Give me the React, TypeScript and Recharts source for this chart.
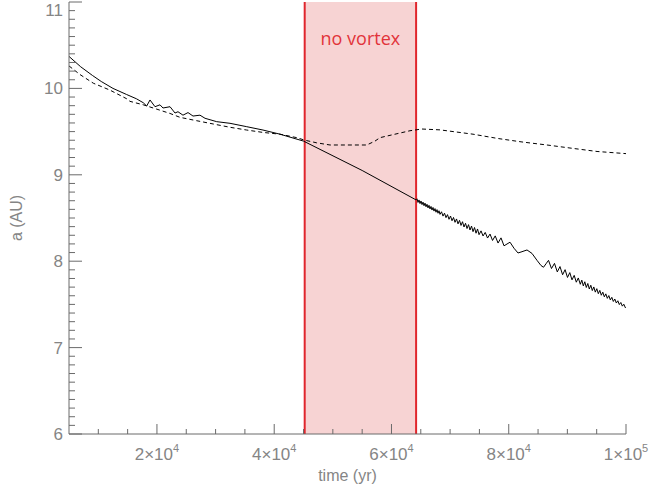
import { LineChart, Line, XAxis, YAxis, ReferenceArea, ReferenceLine, Label } from "recharts"

// semi-major axis a (AU) vs time (yr)
const solidEarly: [number, number][] = [
  [5000, 10.37], [7000, 10.25], [9000, 10.15], [10500, 10.08], [12500, 10.0], [14800, 9.93],
  [16500, 9.88], [17670, 9.834], [18250, 9.796], [18815, 9.866], [19670, 9.788], [20520, 9.81],
  [21030, 9.773], [22230, 9.788], [23080, 9.715], [23590, 9.73], [24440, 9.69], [25300, 9.72],
  [26150, 9.68], [27340, 9.69], [28200, 9.654], [30190, 9.615], [32460, 9.596], [35310, 9.557],
  [38090, 9.518], [40990, 9.47], [45000, 9.39],
]

const solidGap: [number, number][] = [
  [55000, 9.05], [64180, 8.71],
]

const solidLate: [number, number][] = [
  [64354, 8.722], [64525, 8.68], [64696, 8.709], [64866, 8.667], [65037, 8.697], [65207, 8.655],
  [65378, 8.684], [65548, 8.642], [65719, 8.672], [65890, 8.63], [66060, 8.659], [66231, 8.617],
  [66401, 8.647], [66572, 8.605], [66742, 8.634], [66913, 8.592], [67084, 8.622], [67254, 8.58],
  [67425, 8.609], [67595, 8.567], [67766, 8.597], [67936, 8.555], [68107, 8.584], [68278, 8.542],
  [68534, 8.572], [68790, 8.522], [69046, 8.556], [69302, 8.504], [69558, 8.539], [69814, 8.485],
  [70070, 8.523], [70326, 8.468], [70582, 8.506], [70838, 8.45], [71094, 8.489], [71350, 8.432],
  [71606, 8.473], [71862, 8.414], [72118, 8.457], [72374, 8.396], [72630, 8.439], [72886, 8.378],
  [73142, 8.423], [73398, 8.361], [73654, 8.407], [73910, 8.342], [74166, 8.39], [74422, 8.324],
  [74678, 8.373], [74934, 8.307],
  [75275, 8.351], [75616, 8.292], [75991, 8.333], [76384, 8.268], [76810, 8.314], [77237, 8.24],
  [77697, 8.293], [78175, 8.21], [78682, 8.27], [79194, 8.178], [80217, 8.22],
  [80898, 8.15], [81580, 8.095], [82262, 8.11], [83115, 8.13], [83968, 8.09], [84821, 8.01],
  [85503, 7.95], [85929, 7.93], [86356, 7.97], [86782, 8.01],
  [87293, 7.915], [87805, 7.975], [88282, 7.876], [88742, 7.938], [89186, 7.843], [89612, 7.902],
  [90022, 7.812], [90414, 7.868], [90789, 7.784], [91164, 7.836], [91523, 7.757], [91864, 7.806],
  [92205, 7.733],
  [92461, 7.781], [92717, 7.714], [92973, 7.762], [93229, 7.696], [93485, 7.742], [93741, 7.678],
  [93997, 7.722], [94253, 7.66], [94509, 7.702], [94765, 7.642], [95021, 7.682], [95277, 7.624],
  [95533, 7.662], [95789, 7.606], [96045, 7.642], [96301, 7.588], [96557, 7.622], [96813, 7.57],
  [97069, 7.602], [97325, 7.552], [97581, 7.582], [97837, 7.534], [98093, 7.562], [98349, 7.516],
  [98605, 7.542], [98861, 7.498], [99117, 7.522], [99373, 7.48], [99629, 7.502], [99885, 7.462],
  [100000, 7.47],
]

const dashed: [number, number][] = [
  [5000, 10.26], [6880, 10.16], [9150, 10.06], [11990, 9.98], [14840, 9.88], [15400, 9.85],
  [17670, 9.81], [19960, 9.76], [22230, 9.71], [23930, 9.665], [26780, 9.626], [29610, 9.588],
  [32460, 9.55], [35310, 9.518], [38140, 9.49], [40990, 9.47], [43840, 9.43], [45250, 9.4],
  [47250, 9.37], [49520, 9.345], [55780, 9.345], [57190, 9.39], [58040, 9.43], [60600, 9.47],
  [63160, 9.51], [65160, 9.53], [68280, 9.52], [73910, 9.47], [78170, 9.42], [82260, 9.38],
  [86530, 9.345], [90450, 9.31], [95060, 9.27], [100000, 9.245],
]

const vortexStart = 45200
const vortexEnd = 64200

const xTicks = [
  10000, 15000, 20000, 25000, 30000, 35000, 40000, 45000, 50000, 55000,
  60000, 65000, 70000, 75000, 80000, 85000, 90000, 95000, 100000,
]
const xMajor = [20000, 40000, 60000, 80000, 100000]
const yTicks = Array.from({ length: 51 }, (_, i) => +(6 + i * 0.1).toFixed(1))

const toPoints = (arr: [number, number][]) => arr.map(([t, a]) => ({ t, a }))
const solidData = toPoints([...solidEarly, ...solidGap, ...solidLate])
const dashedData = toPoints(dashed)

const AXIS = "#6a6a6a"
const TXT = "#858585"
const FONT = "'Liberation Sans', Arial, sans-serif"

const isMajorY = (v: number) => Math.abs(v - Math.round(v)) < 1e-6

function BottomTick({ x, y, payload }: any) {
  const v = payload.value
  const major = xMajor.includes(v)
  const exp = Math.floor(Math.log10(v))
  const m = Math.round(v / Math.pow(10, exp))
  return (
    <g>
      <line x1={x} x2={x} y1={y} y2={y - (major ? 10 : 5)} stroke={AXIS} />
      {major && (
        <text x={x} y={y + 26} textAnchor="middle" fill={TXT} fontSize={17} fontFamily={FONT}>
          {m}×10<tspan dy={-8} fontSize={11}>{exp}</tspan>
        </text>
      )}
    </g>
  )
}

function TopTick({ x, y, payload }: any) {
  const major = xMajor.includes(payload.value)
  return <line x1={x} x2={x} y1={y} y2={y + (major ? 10 : 5)} stroke={AXIS} />
}

function LeftTick({ x, y, payload }: any) {
  const major = isMajorY(payload.value)
  return (
    <g>
      <line x1={x} x2={x + (major ? 13 : 6)} y1={y} y2={y} stroke={AXIS} />
      {major && (
        <text x={x - 6} y={Math.max(y, 10) + 6} textAnchor="end" fill={TXT} fontSize={17} fontFamily={FONT}>
          {Math.round(payload.value)}
        </text>
      )}
    </g>
  )
}

function RightTick({ x, y, payload }: any) {
  const major = isMajorY(payload.value)
  return <line x1={x} x2={x - (major ? 13 : 6)} y1={y} y2={y} stroke={AXIS} />
}

export default function App() {
  return (
    <div style={{ position: "absolute", left: 0, top: 0 }}>
      <LineChart width={672} height={492} margin={{ top: 2, right: 46, bottom: 0, left: 0 }}>
        <XAxis
          dataKey="t"
          type="number"
          domain={[5000, 100000]}
          allowDataOverflow
          ticks={xTicks}
          interval={0}
          tickSize={0}
          tickMargin={0}
          height={58}
          axisLine={{ stroke: AXIS }}
          tick={<BottomTick />}
        >
          <Label
            content={() => (
              <text x={347.5} y={481} textAnchor="middle" fill={TXT} fontSize={16} fontFamily={FONT}>
                time (yr)
              </text>
            )}
          />
        </XAxis>
        <XAxis
          xAxisId="top"
          orientation="top"
          dataKey="t"
          type="number"
          domain={[5000, 100000]}
          allowDataOverflow
          ticks={xTicks}
          interval={0}
          tickSize={0}
          tickMargin={0}
          height={0}
          axisLine={{ stroke: "#a8a8a8", strokeWidth: 2 }}
          tick={<TopTick />}
        />
        <YAxis
          type="number"
          domain={[6, 11]}
          allowDataOverflow
          ticks={yTicks}
          interval={0}
          tickSize={0}
          tickMargin={0}
          width={69}
          axisLine={{ stroke: AXIS }}
          tick={<LeftTick />}
        >
          <Label
            content={() => (
              <text
                x={22}
                y={218}
                transform="rotate(-90 22 218)"
                textAnchor="middle"
                fill={TXT}
                fontSize={16}
                fontFamily={FONT}
              >
                a (AU)
              </text>
            )}
          />
        </YAxis>
        <YAxis
          yAxisId="right"
          orientation="right"
          type="number"
          domain={[6, 11]}
          allowDataOverflow
          ticks={yTicks}
          interval={0}
          tickSize={0}
          tickMargin={0}
          width={0}
          axisLine={{ stroke: "#a8a8a8", strokeWidth: 2 }}
          tick={<RightTick />}
        />
        <ReferenceArea
          x1={vortexStart}
          x2={vortexEnd}
          fill="#f7d3d3"
          fillOpacity={1}
          stroke="none"
          label={{
            value: "no vortex",
            position: "insideTop",
            offset: 30,
            fill: "#e2333a",
            fontSize: 18,
            fontFamily: "'Open Sans', sans-serif",
          }}
        />
        <ReferenceLine x={vortexStart} stroke="#e0262d" strokeWidth={2} />
        <ReferenceLine x={vortexEnd} stroke="#e0262d" strokeWidth={2} />
        <Line
          data={dashedData}
          dataKey="a"
          type="linear"
          stroke="#000"
          strokeWidth={1}
          strokeDasharray="4 3"
          dot={false}
          isAnimationActive={false}
        />
        <Line
          data={solidData}
          dataKey="a"
          type="linear"
          stroke="#000"
          strokeWidth={1}
          dot={false}
          isAnimationActive={false}
        />
      </LineChart>
    </div>
  )
}
